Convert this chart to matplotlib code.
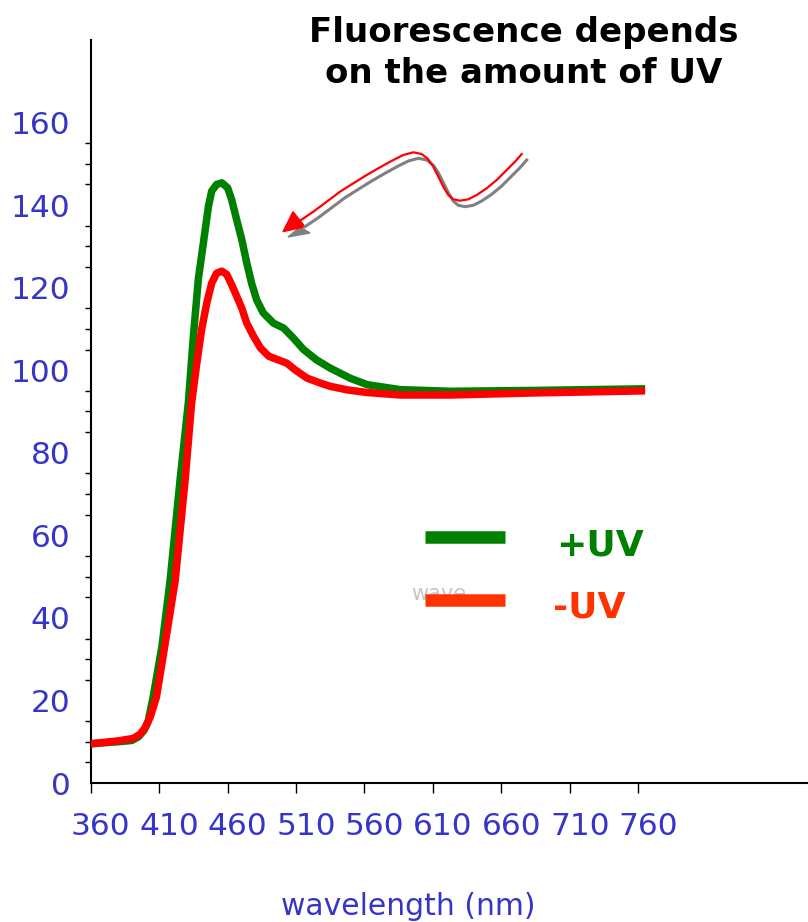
import matplotlib
matplotlib.use("Agg")
import matplotlib.pyplot as plt
from matplotlib.lines import Line2D
from matplotlib.patches import Polygon
from matplotlib.transforms import ScaledTranslation

# +UV curve (green)
wl_plus = [360, 380, 390, 395, 399, 402, 405.6, 412, 418, 425.3, 431.3, 435, 438.6,
           442.3, 446, 448.4, 452, 455.8, 460, 463, 466.6, 470.4, 474, 477.6,
           481.3, 486, 493.5, 501, 508, 515.5, 525, 535, 550, 562, 586, 623,
           683, 765]
fl_plus = [9.5, 10.0, 10.3, 11.2, 12.8, 15, 20.8, 33, 49, 73.5, 92, 108.2, 122,
           130.8, 139.7, 143.4, 145, 145.4, 144.2, 141.3, 136.5, 131.6, 126, 121,
           117, 113.9, 111.4, 110.2, 107.8, 105, 102.5, 100.5, 98, 96.5, 95.3, 94.9,
           95.1, 95.5]

# -UV curve (red)
wl_minus = [360, 380, 391, 396, 400, 403.5, 408, 414, 421.7, 429, 433.7, 437.5, 441,
            444.8, 448.4, 452, 455.8, 459.4, 463, 466.7, 470.4, 474, 479, 484,
            490, 497, 503.3, 509.3, 518, 527.6, 535, 548, 562, 586, 623, 683.6,
            765]
fl_minus = [9.5, 10.2, 10.8, 11.8, 13.5, 16, 20.8, 33, 49, 73.5, 92, 101.7, 109.8,
            116.3, 121.1, 123.5, 124, 123.2, 120.7, 117.9, 115, 111.4, 108.2, 105.4,
            103.4, 102.5, 101.7, 100.1, 98.1, 96.9, 96.1, 95.2, 94.6, 94, 94, 94.5,
            95]

x_ticks = [360, 410, 460, 510, 560, 610, 660, 710, 760]
y_ticks = [0, 20, 40, 60, 80, 100, 120, 140, 160]

title_text = "Fluorescence depends\non the amount of UV"
xlabel_text = "wavelength (nm)"
legend_labels = ["+UV", "-UV"]

# decorative curved arrow (figure pixels)
arrow_red = [(300, 220.7), (313.3, 211.7), (326.7, 201.7), (340, 191.7), (353.3, 183.3),
             (366.7, 175), (380, 167.3), (393.3, 160), (403.3, 155), (413.3, 152.3),
             (421.7, 154), (428.3, 159.3), (433.3, 166.7), (438.3, 176.7),
             (443.3, 186.7), (448.3, 195), (453.3, 199.3), (460, 200.7),
             (468.3, 199.3), (476.7, 195), (486.7, 188.3), (496.7, 180),
             (506.7, 170), (515, 161.7), (521.7, 154)]
arrow_red_head = [(283, 231.7), (293, 211.7), (305, 226.7)]
arrow_gray_head = [(288, 237), (300, 227), (310, 233)]
shadow_dx, shadow_dy = 5, 6

W, H = 808, 922
blue = "#3535c8"

fig = plt.figure(figsize=(W / 100, H / 100), dpi=100)
ax = fig.add_axes([90.7 / W, 1 - 783 / H, 1 - 90.7 / W, (783 - 40) / H])

ax.plot(wl_plus, fl_plus, color="#008000", lw=5.4, solid_joinstyle="round",
        solid_capstyle="butt", zorder=3)
ax.plot(wl_minus, fl_minus, color="#ff0000", lw=5.4, solid_joinstyle="round",
        solid_capstyle="butt", zorder=4)

ax.set_xlim(360, 884)
ax.set_ylim(0, 180)

ax.spines["top"].set_visible(False)
ax.spines["right"].set_visible(False)
ax.spines["left"].set_linewidth(1.5)
ax.spines["bottom"].set_linewidth(1.5)

ax.set_xticks(x_ticks)
ax.set_xticklabels([str(v) for v in x_ticks])
ax.set_yticks(y_ticks)
ax.set_yticklabels([str(v) for v in y_ticks])
minor = [v for v in range(5, 160, 5) if v % 20 != 0]
ax.set_yticks(minor, minor=True)

ax.tick_params(axis="x", which="major", direction="out", length=7, width=1,
               pad=14, labelsize=22.5, labelcolor=blue)
ax.tick_params(axis="y", which="major", length=0, pad=14.5, labelsize=22.5,
               labelcolor=blue)
ax.tick_params(axis="y", which="minor", direction="out", length=4.5, width=1)

for lab in ax.get_xticklabels():
    lab.set_transform(lab.get_transform() + ScaledTranslation(0.10, 0, fig.dpi_scale_trans))

fig.text(408 / W, 1 - 915 / H, xlabel_text, color=blue, fontsize=21.5,
         ha="center", va="baseline")

fig.text(524 / W, 1 - 83 / H, title_text, fontsize=24.5, fontweight="bold",
         ha="center", va="baseline", linespacing=1.3)


def fx(p):
    return p[0] / W, 1 - p[1] / H


# legend drawn by hand
fig.text(411 / W, 1 - 600 / H, "wave", color="#c4c4c4", fontsize=15, ha="left",
         va="baseline", zorder=1)
fig.add_artist(Line2D([425 / W, 505 / W], [1 - 536.5 / H] * 2, color="#008000",
                      lw=9, solid_capstyle="butt", zorder=2))
fig.add_artist(Line2D([425 / W, 505 / W], [1 - 600 / H] * 2, color="#ff3300",
                      lw=9, solid_capstyle="butt", zorder=2))
fig.text(556 / W, 1 - 545 / H, legend_labels[0], color="#008000", fontsize=26,
         fontweight="bold", ha="left", va="center")
fig.text(553 / W, 1 - 607 / H, legend_labels[1], color="#ff3300", fontsize=26,
         fontweight="bold", ha="left", va="center")

# decorative arrow with grey shadow
arrow_gray = [(x + shadow_dx, y + shadow_dy) for x, y in arrow_red]
gx, gy = zip(*[fx(p) for p in arrow_gray])
fig.add_artist(Line2D(gx, gy, color="#808080", lw=2.2, solid_joinstyle="round"))
fig.add_artist(Polygon([fx(p) for p in arrow_gray_head], closed=True,
                       color="#808080", transform=fig.transFigure))
rx, ry = zip(*[fx(p) for p in arrow_red])
fig.add_artist(Line2D(rx, ry, color="#ff0000", lw=1.6, solid_joinstyle="round"))
fig.add_artist(Polygon([fx(p) for p in arrow_red_head], closed=True,
                       color="#ff0000", transform=fig.transFigure))

fig.savefig("out.png", dpi=100)
